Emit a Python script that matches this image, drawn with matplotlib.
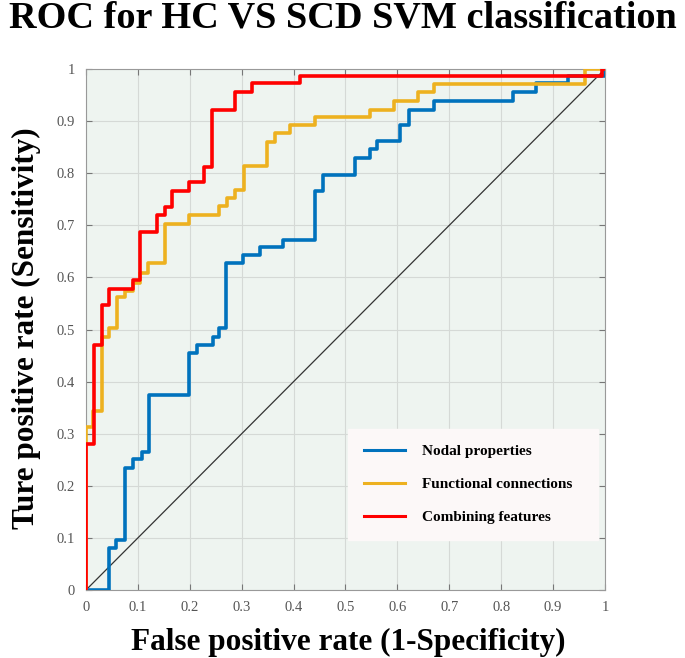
import matplotlib
matplotlib.use("Agg")
import matplotlib.pyplot as plt

# ROC curves (step corners, drawn with steps-post)
nodal_fpr = [0, 0.045, 0.058, 0.075, 0.091, 0.107, 0.121, 0.199, 0.214, 0.244, 0.257, 0.27,
             0.303, 0.335, 0.38, 0.441, 0.457, 0.518, 0.547, 0.561, 0.606, 0.623, 0.67,
             0.822, 0.868, 0.929, 1.0]
nodal_tpr = [0, 0.08, 0.096, 0.235, 0.251, 0.265, 0.374, 0.454, 0.47, 0.485, 0.502, 0.627,
             0.643, 0.658, 0.672, 0.766, 0.797, 0.829, 0.846, 0.862, 0.893, 0.922, 0.939,
             0.955, 0.973, 0.987, 1.0]

func_fpr = [0, 0, 0.013, 0.03, 0.045, 0.059, 0.075, 0.091, 0.105, 0.12, 0.152, 0.199, 0.257,
            0.271, 0.287, 0.304, 0.349, 0.364, 0.394, 0.441, 0.547, 0.593, 0.64, 0.67,
            0.961, 1.0]
func_tpr = [0, 0.313, 0.344, 0.486, 0.502, 0.563, 0.573, 0.59, 0.608, 0.627, 0.703, 0.72,
            0.737, 0.752, 0.768, 0.814, 0.86, 0.878, 0.892, 0.907, 0.922, 0.939, 0.956,
            0.971, 1.0, 1.0]

comb_fpr = [0, 0, 0.015, 0.03, 0.045, 0.091, 0.105, 0.137, 0.152, 0.165, 0.199, 0.227,
            0.243, 0.287, 0.32, 0.412, 0.995, 1.0]
comb_tpr = [0, 0.28, 0.47, 0.547, 0.578, 0.595, 0.688, 0.72, 0.736, 0.766, 0.783, 0.812,
            0.922, 0.956, 0.973, 0.986, 1.0, 1.0]

labels = ["Nodal properties", "Functional connections", "Combining features"]
colors = ["#0072BD", "#EDB120", "#FF0000"]
ticks = [0, 0.1, 0.2, 0.3, 0.4, 0.5, 0.6, 0.7, 0.8, 0.9, 1]
tick_labels = ["0", "0.1", "0.2", "0.3", "0.4", "0.5", "0.6", "0.7", "0.8", "0.9", "1"]

plt.rcParams["font.family"] = ["Liberation Serif", "DejaVu Serif"]

fig = plt.figure(figsize=(6.85, 6.58), dpi=100)
ax = fig.add_axes([0.1255, 0.1033, 0.7577, 0.7918])
ax.set_facecolor("#eef4f0")

curves = [(nodal_fpr, nodal_tpr), (func_fpr, func_tpr), (comb_fpr, comb_tpr)]
for (fx, ty), lab, col in zip(curves, labels, colors):
    ax.plot(fx, ty, drawstyle="steps-post", color=col, lw=2.6, label=lab, zorder=3)

# chance line
ax.plot([0, 1], [0, 1], color="#333333", lw=0.9, zorder=2)

ax.set_xlim(0, 1)
ax.set_ylim(0, 1)
ax.set_xticks(ticks)
ax.set_yticks(ticks)
ax.set_xticklabels(tick_labels)
ax.set_yticklabels(tick_labels)
ax.tick_params(direction="in", top=True, right=True, labelsize=10.5, colors="#777777",
               length=4, labelcolor="#555555")
ax.tick_params(axis="x", pad=8)
ax.tick_params(axis="y", pad=8)
ax.grid(True, color="#d5d9d6", lw=0.8, zorder=0)
for s in ax.spines.values():
    s.set_color("#999999")

fig.text(0.5, 0.972, "ROC for HC VS SCD SVM classification", fontsize=27.5,
         fontweight="bold", ha="center", va="center")
fig.text(0.508, 0.024, "False positive rate (1-Specificity)", fontsize=22.5,
         fontweight="bold", ha="center", va="center")
fig.text(0.039, 0.501, "Ture positive rate (Sensitivity)", fontsize=22.5, rotation=90,
         fontweight="bold", ha="center", va="center")

leg = ax.legend(loc="lower left", bbox_to_anchor=(0.505, 0.096, 0.481, 0.215), mode="expand",
                prop={"weight": "bold", "size": 11},
                handlelength=2.7, labelspacing=1.25, borderpad=1.05, handletextpad=1.1,
                borderaxespad=0, fancybox=False, framealpha=1, facecolor="#fcf8f8",
                edgecolor="#fcf8f8")
for ln in leg.get_lines():
    ln.set_linewidth(2.2)

fig.savefig("out.png", dpi=100)
